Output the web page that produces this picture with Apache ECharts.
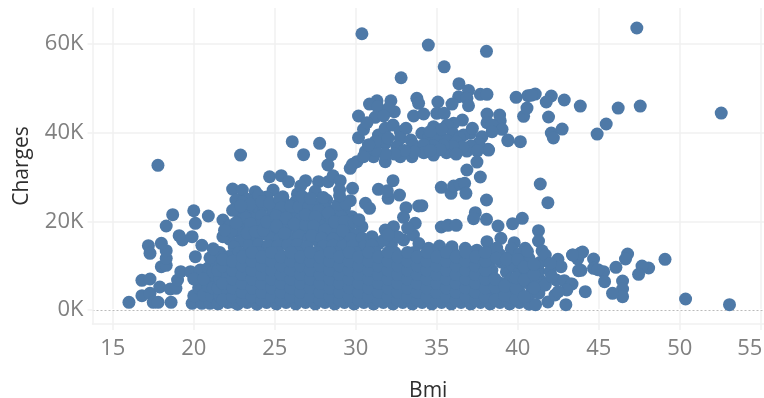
<!DOCTYPE html>
<html><head><meta charset="utf-8">
<style>html,body{margin:0;padding:0;background:#fff}#c{width:764px;height:398px}</style>
<script src="https://cdn.jsdelivr.net/npm/echarts@6/dist/echarts.min.js"></script>
</head><body><div id="c"></div>
<script>
const xTicks=[15,20,25,30,35,40,45,50,55];
const yTicks=[0,20000,40000,60000];
const outliers=[[17.79,32650],[22.89,34980],[30.38,62360],[34.48,59810],[38.07,58380],[35.46,54900],[32.8,52430],[47.35,63650],[52.56,44460],[47.56,46040],[46.2,45590],[45.46,41980],[44.9,39720],[43.86,46040],[42.87,47400],[42.07,48300],[41.76,46950],[41.9,43560],[42.74,40850],[42.07,39950],[42.2,38820],[53.07,1200],[50.36,2480],[49.09,11440],[48.08,9480],[47.67,9930],[47.46,8050],[46.78,12640],[46.65,11510],[46.06,9630],[45.3,8650],[44.68,11510],[44.68,9400],[44.95,9100],[45.36,6390],[46.47,6550],[46.47,4740],[46.47,3000],[45.85,3770],[44.17,4130],[43.9,8960],[44.0,13090],[43.7,11510],[43.4,12410],[43.24,5870],[43.86,12790],[43.38,12410],[42.48,11440],[42.67,9770],[43.75,8870]];
const upperCluster=[[36.37,51080],[36.96,49570],[37.69,48680],[38.1,48680],[39.9,48000],[40.63,48370],[41.08,48750],[40.85,48500],[36.35,48140],[36.86,47780],[36.96,46110],[35.94,46490],[35.07,46950],[33.77,47780],[33.88,46650],[32.17,47240],[31.31,47240],[30.85,46490],[31.35,45880],[32.38,44760],[32.03,45520],[30.17,43790],[31.2,43490],[31.72,43790],[33.57,43790],[34.19,44240],[35.0,44390],[35.46,44390],[36.58,42880],[36.04,42140],[38.1,44240],[38.88,44010],[38.92,42720],[38.1,42270],[38.41,41750],[40.36,43720],[40.57,45590],[39.03,40780],[38.41,40240],[37.79,39110],[39.39,38210],[40.16,37990],[38.16,36270],[37.07,39880],[36.65,39500],[30.79,37240],[30.17,38890],[30.48,40780],[30.69,42270],[31.4,39500],[31.82,41010],[32.3,41750],[32.75,40240],[33.1,41010],[32.75,38750],[33.4,38370],[33.57,37240],[31.82,37620],[32.54,36860],[34.08,39880],[34.5,38900],[34.8,41370],[35.2,39900],[35.63,41750],[36.0,39800],[36.4,38900],[35.0,38700],[35.6,38300],[36.2,37900],[38.2,36100],[34.8,34980],[35.6,35500],[36.86,35880],[39.4,38370],[33.47,34600],[31.82,33480],[31.1,34600],[32.75,34600],[37.6,37700],[37.1,37000],[36.6,36800],[36.0,36900],[35.4,37200],[34.8,37000],[34.2,37300],[34.2,35500],[33.6,35700],[33.0,36000],[32.4,35200],[31.8,35300],[31.2,36100],[30.6,35800],[32.0,38800],[31.2,38000],[37.5,35900],[36.2,35200],[35.2,36200],[34.6,36000],[37.2,41000],[35.3,40800],[34.6,40300]];
const midScatter=[[37.48,33400],[36.86,31600],[37.69,30020],[35.28,27690],[35.88,26340],[36.04,27990],[36.45,28370],[36.72,28600],[36.8,26340],[38.07,24830],[34.08,23540],[37.38,21960],[37.27,20610],[38.07,20470],[35.28,18730],[35.69,19110],[36.2,19110],[38.78,18960],[39.68,19480],[40.28,20700],[41.39,28440],[41.86,24220],[41.28,17900],[41.28,15570],[41.5,13380],[38.96,16180],[38.1,15420],[39.78,15190],[40.46,13920],[26.08,37990],[27.77,37620],[26.78,35060],[28.49,35060],[28.28,32730],[29.66,31980],[30.07,33480],[30.48,34600],[30.8,37240],[29.8,32900],[24.68,30080],[25.4,30320],[25.85,28960],[26.9,29190],[27.7,28960],[28.3,28960],[28.6,30310],[29.04,29190],[29.0,27080],[29.8,27470],[29.66,24670],[30.6,24080],[30.85,22950],[31.4,27240],[32.3,29190],[32.0,25200],[32.7,25950],[31.95,26900],[33.1,23090],[33.88,23470],[32.95,20920],[33.67,19570],[32.33,18800],[31.82,18050],[31.0,16550],[30.38,18800],[29.76,21060],[32.95,15800],[33.56,16930],[33.2,18500],[33.9,15000],[34.5,13920],[35.17,14440],[35.94,14300],[36.76,13920],[37.48,13500],[22.4,27300],[23.0,27080],[22.6,24830],[22.8,21820],[23.8,26700],[24.9,27080],[25.5,25570],[26.4,26200],[27.5,26800],[28.2,24830],[26.6,28000]];
const midBlob=[[23.3,25000],[23.9,24600],[24.5,25500],[25.1,24000],[25.7,23800],[26.3,24500],[26.9,24700],[27.5,24000],[28.1,23000],[28.7,22600],[29.3,22900],[23.1,23000],[23.7,22700],[24.3,23400],[24.9,22000],[25.5,21900],[26.1,22500],[26.7,22700],[27.3,22000],[27.9,21000],[28.5,20700],[29.1,21000],[23.0,19500],[23.6,20700],[24.2,21200],[24.8,20100],[25.4,19900],[26.0,20500],[26.6,20600],[27.2,20000],[27.8,19100],[28.4,18800],[29.0,19300],[29.6,18700],[22.8,17500],[23.4,18500],[24.0,19000],[24.6,18200],[25.2,18000],[25.8,18500],[26.4,18600],[27.0,18000],[27.6,17200],[28.2,17000],[28.8,17400],[29.4,16800],[30.0,17000],[22.2,16000],[22.9,15500],[23.5,16500],[24.1,17000],[24.7,16300],[25.3,16000],[25.9,16500],[26.5,16700],[27.1,16000],[27.7,15400],[28.3,15000],[28.9,15600],[29.5,15000],[30.1,15000],[30.7,15000],[31.4,15000],[32.2,14800],[21.8,20310],[21.8,16550],[22.2,19000],[22.4,22500],[31.7,15700],[32.6,16500],[23.4,14500],[24.0,14800],[24.6,14500],[25.2,14500],[25.8,14700],[26.4,14800],[27.0,14300]];
const midFill=[[23.2,20800],[23.0,24400],[23.5,23900],[24.0,25900],[24.2,24500],[24.7,24200],[25.3,25000],[25.4,23100],[26.0,23400],[26.5,23300],[27.1,23300],[26.7,25600],[27.2,25200],[28.0,25400],[27.7,22500],[28.3,21900],[28.9,23800],[29.4,24000],[29.0,25800],[23.5,19500],[23.3,17300],[23.8,17700],[24.3,18000],[24.5,19900],[25.1,21200],[25.7,20800],[25.1,19000],[25.6,17300],[26.2,19400],[26.9,19300],[26.9,21500],[27.5,21000],[27.4,18900],[28.1,18100],[28.7,19900],[29.3,20000],[29.9,19900],[30.2,20400],[27.3,16800],[27.9,16200],[28.6,16000],[29.2,17900],[29.7,16000],[30.4,16200],[30.5,14300],[31.0,14600],[28.0,14400],[28.6,14600],[29.2,14400],[29.8,14500],[32.0,17000],[22.5,14200],[22.3,17800],[22.6,19700],[22.9,23500],[21.9,18000]];
const lowLeft=[[16.0,1730],[16.8,3230],[17.3,3760],[17.5,1730],[17.8,1730],[18.6,1730],[16.8,6700],[17.3,7000],[17.9,5190],[18.55,4740],[18.9,4890],[19.0,6770],[19.2,8650],[19.8,8650],[20.4,9030],[18.0,9780],[18.3,10090],[18.3,11670],[18.3,13390],[18.0,15050],[17.2,14520],[17.3,12790],[20.1,12040],[20.5,14600],[19.1,16770],[19.3,15800],[19.9,16550],[20.1,19570],[20.0,22410],[18.3,18960],[18.7,21510],[20.9,21220],[19.9,1500],[20.5,1500],[21.0,1500],[20.0,3200],[20.3,5000],[20.0,7000],[20.6,3400],[21.0,7200],[20.9,9500],[21.4,10500],[21.0,11800],[21.6,13000],[21.2,13800],[21.1,3200],[20.9,5300],[20.6,7000],[21.2,5000],[21.2,8600],[21.8,4300],[21.8,7800],[22.4,1800],[22.4,12500]];
const lowBand=[[21.5,1400],[21.6,3200],[21.5,5000],[21.6,7000],[21.5,8900],
[22.1,1700],[22.1,4000],[22.2,6000],[22.1,8000],[22.2,10000],[22.1,12000],
[22.7,1300],[22.7,3000],[22.8,5000],[22.7,7000],[22.8,9000],[22.7,11000],[22.8,13000],
[23.3,1700],[23.3,4000],[23.4,6000],[23.3,8000],[23.4,10000],[23.3,12000],
[23.9,1300],[23.9,3000],[24.0,5000],[23.9,7000],[24.0,9000],[23.9,11000],[24.0,13000],
[24.5,1700],[24.5,4000],[24.6,6000],[24.5,8000],[24.6,10000],[24.5,12000],
[25.1,1400],[25.1,3000],[25.2,5000],[25.1,7000],[25.2,9000],[25.1,11000],[25.2,13000],
[25.7,1700],[25.7,4000],[25.8,6000],[25.7,8000],[25.8,10000],[25.7,12000],
[26.3,1400],[26.3,3000],[26.4,5000],[26.3,7000],[26.4,9000],[26.3,11000],[26.4,13000],
[26.9,1700],[26.9,4000],[27.0,6000],[26.9,8000],[27.0,10000],[26.9,12000],
[27.5,1400],[27.5,3000],[27.6,5000],[27.5,7000],[27.6,9000],[27.5,11000],[27.6,13000],
[28.1,1700],[28.1,4000],[28.2,6000],[28.1,8000],[28.2,10000],[28.1,12000],
[28.7,1400],[28.7,3000],[28.8,5000],[28.7,7000],[28.8,9000],[28.7,11000],[28.8,13000],
[29.3,1700],[29.3,4000],[29.4,6000],[29.3,8000],[29.4,10000],[29.3,12000],
[29.9,1400],[29.9,3000],[30.0,5000],[29.9,7000],[30.0,9000],[29.9,11000],[30.0,13000],
[30.5,1700],[30.5,4000],[30.6,6000],[30.5,8000],[30.6,10000],[30.5,12000],
[31.1,1400],[31.1,3000],[31.2,5000],[31.1,7000],[31.2,9000],[31.1,11000],[31.2,13000],
[31.7,1700],[31.7,4000],[31.8,6000],[31.7,8000],[31.8,10000],[31.7,12000],
[32.3,1400],[32.3,3000],[32.4,5000],[32.3,7000],[32.4,9000],[32.3,11000],[32.4,13000],
[32.9,1700],[32.9,4000],[33.0,6000],[32.9,8000],[33.0,10000],[32.9,12000],
[33.5,1400],[33.5,3000],[33.6,5000],[33.5,7000],[33.6,9000],[33.5,11000],[33.6,13000],
[34.1,1700],[34.1,4000],[34.2,6000],[34.1,8000],[34.2,10000],[34.1,12000],
[34.7,1400],[34.7,3000],[34.8,5000],[34.7,7000],[34.8,9000],[34.7,11000],[34.8,12800],
[35.3,1700],[35.3,4000],[35.4,6000],[35.3,8000],[35.4,10000],[35.3,12000],
[35.9,1400],[35.9,3000],[36.0,5000],[35.9,7000],[36.0,9000],[35.9,11000],[36.0,13000],
[36.5,1700],[36.5,4000],[36.6,6000],[36.5,8000],[36.6,10000],[36.5,12000],
[37.1,1400],[37.1,3000],[37.2,5000],[37.1,7000],[37.2,9000],[37.1,11000],[37.2,13000],
[37.7,1700],[37.7,4000],[37.8,6000],[37.7,8000],[37.8,10000],[37.7,12000],
[38.3,1400],[38.3,3000],[38.4,5000],[38.3,7000],[38.4,9000],[38.3,11000],[38.4,13200],
[38.9,1700],[38.9,4000],[39.0,6000],[39.3,8600],[39.0,10800],[38.9,12500],[38.7,14000],
[39.5,1400],[39.5,3000],[39.6,5000],[39.6,7000],[39.7,10000],[39.5,12000],[39.6,13800],
[40.1,1700],[40.1,4000],[40.2,6000],[40.1,8500],[40.2,10600],[40.1,12600],
[40.7,1300],[40.7,3200],[40.8,5500],[40.7,7600],[40.8,9600],[40.7,11600],[40.6,13200],
[41.1,1200],[41.86,1810],[41.3,3800],[41.4,6700],[41.3,8800],[41.4,10800],[41.7,12400],
[42.97,1200],[42.3,3390],[41.7,5640],[42.38,6770],[42.87,6610],[43.35,5870],[43.03,4510],[42.5,4130],[42.0,8600],[42.0,10500],[42.1,7500]];
const lowFill=[[21.8,2300],[21.8,6000],[21.8,9900],[21.8,11400],[22.4,3000],[22.4,5000],[22.4,7000],[22.4,9000],[22.4,11000],[23.0,2200],[23.0,4000],[23.0,6000],[23.0,8000],[23.0,10000],[23.0,12000],[23.6,3000],[23.6,5000],[23.6,7000],[23.6,9000],[23.6,11000],[23.6,13000],[24.2,2200],[24.2,4000],[24.2,6000],[24.2,8000],[24.2,10000],[24.2,12000],[24.8,3000],[24.8,5000],[24.8,7000],[24.8,9000],[24.8,11000],[24.8,13000],[25.4,2200],[25.4,4000],[25.4,6000],[25.4,8000],[25.4,10000],[25.4,12000],[26.0,3000],[26.0,5000],[26.0,7000],[26.0,9000],[26.0,11000],[26.0,13000],[26.6,2200],[26.6,4000],[26.6,6000],[26.6,8000],[26.6,10000],[26.6,12000],[27.2,3000],[27.2,5000],[27.2,7000],[27.2,9000],[27.2,11000],[27.2,13000],[27.8,2200],[27.8,4000],[27.8,6000],[27.8,8000],[27.8,10000],[27.8,12000],[28.4,3000],[28.4,5000],[28.4,7000],[28.4,9000],[28.4,11000],[28.4,13000],[29.0,2200],[29.0,4000],[29.0,6000],[29.0,8000],[29.0,10000],[29.0,12000],[29.6,3000],[29.6,5000],[29.6,7000],[29.6,9000],[29.6,11000],[29.6,13000],[30.2,2200],[30.2,4000],[30.2,6000],[30.2,8000],[30.2,10000],[30.2,12000],[30.8,3000],[30.8,5000],[30.8,7000],[30.8,9000],[30.8,11000],[30.8,13000],[31.4,2200],[31.4,4000],[31.4,6000],[31.4,8000],[31.4,10000],[31.4,12000],[32.0,3000],[32.0,5000],[32.0,7000],[32.0,9000],[32.0,11000],[32.0,13000],[32.6,2200],[32.6,4000],[32.6,6000],[32.6,8000],[32.6,10000],[32.6,12000],[33.2,3000],[33.2,5000],[33.2,7000],[33.2,9000],[33.2,11000],[33.2,13000],[33.8,2200],[33.8,4000],[33.8,6000],[33.8,8000],[33.8,10000],[33.8,12000],[34.4,3000],[34.4,5000],[34.4,7000],[34.4,9000],[34.4,11000],[34.4,13000],[35.0,2200],[35.0,4000],[35.0,6000],[35.0,8000],[35.0,10000],[35.0,12000],[35.6,3000],[35.6,5000],[35.6,7000],[35.6,9000],[35.6,11000],[35.6,13000],[36.2,2200],[36.2,4000],[36.2,6000],[36.2,8000],[36.2,10000],[36.2,12000],[36.8,3000],[36.8,5000],[36.8,7000],[36.8,9000],[36.8,11000],[36.8,13000],[37.4,2200],[37.4,4000],[37.4,6000],[37.4,8000],[37.4,10000],[37.4,12000],[38.0,3000],[38.0,5000],[38.0,7000],[38.0,9000],[38.0,11000],[38.0,13000],[38.6,2300],[38.6,5200],[38.6,7000],[38.7,11700],[39.2,3300],[39.2,5400],[39.3,11500],[39.9,2500],[39.9,5000],[39.9,7300],[40.0,11400],[40.4,6800],[40.4,3000],[40.4,9700],[41.0,5000],[41.0,8000],[41.0,10300]];
const series=[outliers,upperCluster,midScatter,midBlob,midFill,lowLeft,lowBand,lowFill];
const chart=echarts.init(document.getElementById('c'),null,{renderer:'canvas'});
const axisFont={color:'#808080',fontSize:22,fontFamily:'Open Sans'};
const titleFont={color:'#2e2e2e',fontSize:21,fontFamily:'Open Sans'};
const line={lineStyle:{color:'#f1f1f1',width:1.5}};
chart.setOption({
 animation:false,
 grid:{left:92.5,right:0,top:8,bottom:74,show:false,outerBoundsMode:'none'},
 xAxis:{type:'value',min:13.75,max:55.2,name:'Bmi',nameLocation:'middle',nameGap:57,nameTextStyle:titleFont,
  axisLine:{show:true,onZero:false,...line},
  axisTick:{show:true,length:6,customValues:xTicks,...line},
  axisLabel:{...axisFont,margin:14,customValues:xTicks,
   formatter:v=>v===55?'{e|55}':String(v),
   rich:{e:{...axisFont,padding:[0,22,0,0]}}},
  splitLine:{show:true,...line}},
 yAxis:{type:'value',min:-3160,max:68170,name:'Charges',nameLocation:'middle',nameGap:60,nameTextStyle:titleFont,
  axisLine:{show:true,onZero:false,...line},
  axisTick:{show:true,length:5,customValues:yTicks,...line},
  axisLabel:{...axisFont,margin:9,customValues:yTicks,formatter:v=>(v/1000)+'K'},
  splitLine:{show:true,...line}},
 series:[{type:'scatter',symbolSize:13,silent:true,
  data:series.flat(),
  itemStyle:{color:'#4e79a7',opacity:1},
  markLine:{silent:true,symbol:'none',label:{show:false},z:0,data:[
   {yAxis:0,lineStyle:{color:'#ffffff',type:'solid',width:2}},
   {yAxis:0,lineStyle:{color:'#bbbbbb',type:[2,2],width:1}}]}}]
});
</script></body></html>
